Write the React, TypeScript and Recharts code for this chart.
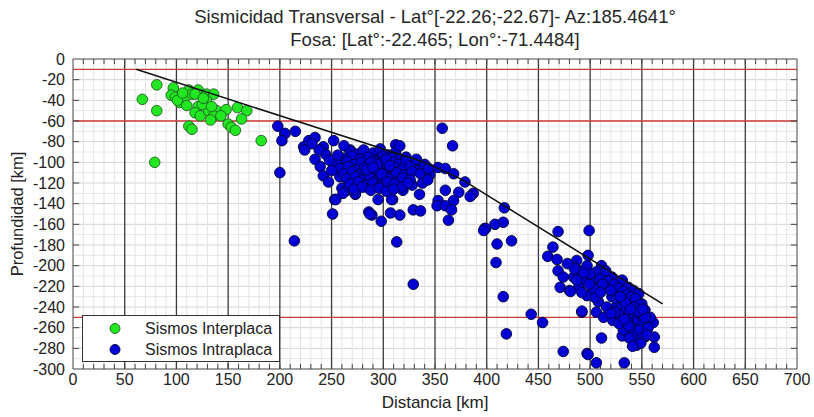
import React from 'react';
import { ScatterChart, Scatter, XAxis, YAxis, ReferenceLine, Legend } from 'recharts';

const FONT = '"Liberation Sans", Arial, sans-serif';

// axes
const xTicks = [0, 50, 100, 150, 200, 250, 300, 350, 400, 450, 500, 550, 600, 650, 700];
const yTicks = [0, -20, -40, -60, -80, -100, -120, -140, -160, -180, -200, -220, -240, -260, -280, -300];
const xMinor = Array.from({ length: 69 }, (_, i) => (i + 1) * 10);
const yMinor = Array.from({ length: 29 }, (_, i) => -(i + 1) * 10);
const xMajor = [50, 100, 150, 200, 250, 300, 350, 400, 450, 500, 550, 600, 650];
const yEdgeTicks = [-20, -40, -60, -80, -100, -120, -140, -160, -180, -200, -220, -240, -260, -280];

// red depth limits
const redDepths = [-10, -60, -250];

// slab top (distance, depth)
const slab: [number, number][] = [[61, -10], [340, -100], [375, -116], [570, -237]];

const interplaca: [number, number][] = [
  [81, -25], [67, -39], [81, -50], [79, -100], [97, -28], [95, -35], [99, -37], [103, -42],
  [108, -37], [112, -30], [115, -34], [121, -30], [118, -34], [129, -34], [136, -34], [129, -40],
  [121, -46], [118, -52], [123, -55], [131, -50], [139, -50], [136, -55], [133, -59], [148, -49],
  [159, -47], [168, -50], [163, -58], [150, -63], [153, -66], [157, -69], [112, -65], [115, -68],
  [182, -79], [101, -40], [106, -33], [125, -44], [143, -55], [126, -38], [110, -45], [134, -46],
];

const intraplaca: [number, number][] = [
  // scattered, west part
  [198, -65], [205, -72], [202, -79], [215, -70], [200, -110], [214, -176],
  [223, -85], [224, -88], [228, -79], [234, -76], [242, -85], [252, -79], [234, -97], [239, -104],
  [242, -113], [247, -119], [252, -100], [258, -114], [260, -125], [265, -127], [273, -131],
  [253, -136], [251, -150], [254, -136], [261, -130], [273, -130],
  [286, -148], [289, -151], [298, -157], [295, -136], [309, -136], [307, -149], [316, -151],
  [329, -146], [336, -147], [335, -131], [342, -116], [313, -177], [329, -218], [312, -83],
  [286, -125], [278, -117], [268, -88], [281, -92], [297, -92], [326, -103], [334, -106],
  [319, -127], [328, -122], [308, -136], [287, -150],
  // dense cluster ~300 km
  [268, -89], [275, -92], [281, -88], [290, -91], [297, -87], [305, -93], [312, -90],
  [262, -96], [270, -94], [278, -97], [286, -95], [293, -98], [300, -94], [308, -96], [316, -97], [322, -95],
  [255, -101], [265, -99], [272, -102], [279, -100], [285, -103], [291, -99], [297, -101], [302, -104],
  [309, -100], [315, -102], [322, -99], [330, -101],
  [258, -106], [266, -104], [274, -107], [282, -105], [288, -108], [294, -104], [300, -106], [305, -109],
  [311, -105], [318, -107], [326, -104], [333, -108],
  [262, -111], [270, -109], [277, -112], [284, -110], [290, -113], [296, -109], [301, -111], [307, -114],
  [313, -110], [320, -112], [328, -109], [336, -111],
  [265, -116], [273, -114], [280, -117], [287, -115], [293, -118], [299, -114], [305, -116], [312, -119],
  [319, -115], [326, -117],
  [268, -121], [276, -119], [283, -122], [290, -120], [297, -123], [304, -119], [311, -121], [318, -124], [324, -120],
  [272, -126], [280, -124], [288, -127], [296, -125], [303, -128], [310, -126],
  [244, -92], [248, -98], [250, -108], [256, -93], [262, -84], [238, -88], [231, -82], [300, -99],
  [294, -102], [288, -100], [303, -97], [284, -107], [298, -111], [306, -103], [290, -105], [316, -84],
  [340, -102], [345, -112], [332, -97], [338, -120], [344, -106],
  // 350-480 km
  [357, -67], [367, -84], [353, -105], [360, -106], [368, -111], [379, -119], [373, -129], [360, -127],
  [343, -117], [387, -130], [384, -133], [353, -137], [352, -142], [360, -142], [368, -137],
  [366, -146], [363, -156], [398, -164], [417, -144], [416, -158], [408, -160], [399, -164],
  [397, -166], [424, -176], [410, -179], [409, -197], [416, -230], [419, -266], [443, -247],
  [454, -255], [474, -283], [497, -285], [506, -294], [533, -294], [562, -269], [562, -279],
  [511, -270], [492, -245], [469, -167], [499, -166], [464, -182], [459, -191], [468, -194],
  [469, -205], [474, -211], [471, -221], [480, -224],
  // cluster ~530 km
  [498, -190], [487, -195], [484, -201], [490, -205], [497, -200], [511, -200], [506, -206], [484, -211],
  [493, -214], [503, -214], [510, -213], [489, -221], [481, -225], [497, -229], [506, -227], [510, -221],
  [521, -211], [531, -214], [522, -221], [537, -221], [542, -224], [547, -227], [529, -227], [521, -230],
  [508, -235], [516, -240], [526, -238], [535, -235], [545, -234], [550, -237], [553, -243], [492, -244],
  [506, -245], [513, -250], [522, -253], [532, -250], [542, -246], [558, -253], [561, -255], [532, -258],
  [540, -259], [548, -258], [535, -264], [545, -266], [553, -263], [542, -272], [545, -277], [531, -268],
  [553, -269], [498, -286], [558, -250],
  [515, -205], [518, -215], [523, -218], [527, -222], [532, -225], [536, -228], [540, -230], [544, -232],
  [548, -238], [526, -232], [530, -240], [534, -244], [538, -248], [542, -250], [546, -252], [550, -248],
  [552, -256], [528, -248], [524, -245], [536, -254], [540, -262], [544, -268], [548, -262], [550, -270],
  [538, -270], [532, -262], [528, -256], [520, -246], [545, -245], [553, -250], [556, -260], [549, -275],
  [541, -278], [534, -236], [529, -230], [543, -240], [547, -244], [537, -258], [533, -252], [551, -242],
  [555, -267], [539, -242], [520, -224], [512, -218], [500, -208], [503, -222], [494, -207], [487, -214],
  [499, -218], [505, -231], [510, -226], [492, -226], [485, -203], [478, -198],
];

const toPts = (a: [number, number][]) => a.map(([x, y]) => ({ x, y }));

const GREEN = '#22e622';
const BLUE = '#0000d4';

const dot = (fill: string, stroke: string) => (p: any) => (
  <circle cx={p.cx} cy={p.cy} r={5.3} fill={fill} stroke={stroke} strokeWidth={0.9} />
);

const LegendBox = () => (
  <svg width={198} height={47} style={{ display: 'block' }}>
    <rect x={0.5} y={0.5} width={197} height={46} fill="#fff" stroke="#333" strokeWidth={1} />
    <circle cx={33} cy={13.5} r={5} fill={GREEN} stroke="#1f5f1f" strokeWidth={0.9} />
    <circle cx={33} cy={34.5} r={5} fill={BLUE} stroke="#00003a" strokeWidth={0.9} />
    <text x={63} y={19} fontSize={16} fill="#222" fontFamily={FONT}>Sismos Interplaca</text>
    <text x={63} y={40} fontSize={16} fill="#222" fontFamily={FONT}>Sismos Intraplaca</text>
  </svg>
);

export default function App() {
  return (
    <div style={{ position: 'absolute', left: 0, top: 0, width: 814, height: 417, background: '#fff', fontFamily: FONT }}>
      <div style={{ position: 'absolute', left: 73, width: 724, top: 5, textAlign: 'center', fontSize: 18.5, lineHeight: '23px', color: '#262626' }}>
        <div>Sismicidad Transversal - Lat°[-22.26;-22.67]- Az:185.4641°</div>
        <div>Fosa: [Lat°:-22.465; Lon°:-71.4484]</div>
      </div>
      <ScatterChart width={814} height={417} margin={{ top: 59, right: 17, bottom: 8, left: 10 }}>
        {yMinor.map((v) => (
          <ReferenceLine key={'hy' + v} y={v} stroke={v % 20 === 0 ? '#d4d4d4' : '#e6e6e6'} strokeWidth={1} />
        ))}
        {xMinor.filter((v) => v % 50 !== 0).map((v) => (
          <ReferenceLine key={'vx' + v} x={v} stroke="#e3e3e3" strokeWidth={1} />
        ))}
        {xMajor.map((v) => (
          <ReferenceLine key={'mx' + v} x={v} stroke="#3a3a3a" strokeWidth={1.3} />
        ))}
        {redDepths.map((v) => (
          <ReferenceLine key={'r' + v} y={v} stroke="#d23a3a" strokeWidth={1.3} />
        ))}
        {xMinor.map((v) => (
          <ReferenceLine key={'tb' + v} segment={[{ x: v, y: -300 }, { x: v, y: -295 }]} stroke="#444" />
        ))}
        {xMinor.map((v) => (
          <ReferenceLine key={'tt' + v} segment={[{ x: v, y: 0 }, { x: v, y: -5 }]} stroke="#444" />
        ))}
        {yEdgeTicks.map((v) => (
          <ReferenceLine key={'tl' + v} segment={[{ x: 0, y: v }, { x: 6, y: v }]} stroke="#444" />
        ))}
        {yEdgeTicks.map((v) => (
          <ReferenceLine key={'tr' + v} segment={[{ x: 694, y: v }, { x: 700, y: v }]} stroke="#444" />
        ))}
        <ReferenceLine y={0} stroke="#444" />
        <ReferenceLine x={700} stroke="#444" />
        <XAxis
          type="number"
          dataKey="x"
          domain={[0, 700]}
          ticks={xTicks}
          interval={0}
          height={40}
          tickLine={false}
          tickSize={4}
          tickMargin={1}
          axisLine={{ stroke: '#444' }}
          tick={{ fill: '#222', fontSize: 16, fontFamily: FONT }}
          label={{ value: 'Distancia [km]', position: 'insideBottom', offset: 1, fill: '#222', fontSize: 17, fontFamily: FONT }}
        />
        <YAxis
          type="number"
          dataKey="y"
          domain={[-300, 0]}
          ticks={yTicks}
          interval={0}
          width={63}
          tickLine={false}
          axisLine={{ stroke: '#444' }}
          tick={{ fill: '#222', fontSize: 16, fontFamily: FONT }}
          label={{ value: 'Profundidad [km]', angle: -90, position: 'insideLeft', offset: 7, fill: '#222', fontSize: 16.5, fontFamily: FONT, style: { textAnchor: 'middle' } }}
        />
        <Scatter name="Sismos Interplaca" data={toPts(interplaca)} shape={dot(GREEN, '#1f5f1f')} isAnimationActive={false} />
        <Scatter name="Sismos Intraplaca" data={toPts(intraplaca)} shape={dot(BLUE, '#00003a')} isAnimationActive={false} />
        <Scatter
          name="slab"
          data={toPts(slab)}
          line={{ stroke: '#111', strokeWidth: 1.6 }}
          shape={() => <g />}
          legendType="none"
          isAnimationActive={false}
        />
        <Legend
          layout="horizontal"
          verticalAlign="middle"
          align="center"
          content={() => <LegendBox />}
          wrapperStyle={{ left: 82, top: 315, width: 198, height: 47 }}
        />
      </ScatterChart>
    </div>
  );
}
